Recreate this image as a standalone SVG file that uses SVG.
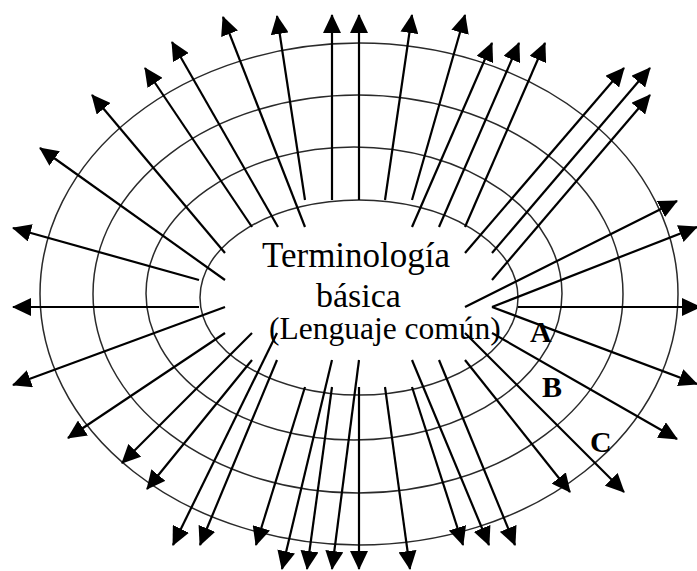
<svg xmlns="http://www.w3.org/2000/svg" width="697" height="571" viewBox="0 0 697 571">
<style>
.ring{fill:none;stroke:#2a2a2a;stroke-width:1.5}
.arr{stroke:#000;stroke-width:2.2;fill:none;marker-end:url(#ah)}
.t{font-family:"Liberation Serif","Times New Roman",serif;fill:#000}
.lb{font-family:"Liberation Serif","Times New Roman",serif;font-weight:bold;font-size:30px;fill:#000}
</style>
<defs>
<marker id="ah" markerWidth="19" markerHeight="18" refX="18" refY="9" orient="auto" markerUnits="userSpaceOnUse">
<path d="M0,0 L19,9 L0,18 z" fill="#000"/>
</marker>
</defs>
<rect width="697" height="571" fill="#fff"/>
<g id="rings">
<ellipse class="ring" cx="359" cy="294" rx="319" ry="251"/>
<ellipse class="ring" cx="358" cy="294" rx="265" ry="199"/>
<ellipse class="ring" cx="354" cy="293.5" rx="208" ry="146.5"/>
<ellipse class="ring" cx="359" cy="297.5" rx="159" ry="97.5"/>
</g>
<g id="connectors">
<line class="arr" x1="199" y1="280" x2="13" y2="228"/>
<line class="arr" x1="199" y1="307" x2="13" y2="307"/>
<line class="arr" x1="225" y1="280" x2="40" y2="148"/>
<line class="arr" x1="225" y1="253" x2="92" y2="95"/>
<line class="arr" x1="225" y1="307" x2="13" y2="385"/>
<line class="arr" x1="225" y1="333" x2="68" y2="438"/>
<line class="arr" x1="252" y1="227" x2="145" y2="68"/>
<line class="arr" x1="278" y1="227" x2="172" y2="42"/>
<line class="arr" x1="305" y1="227" x2="223" y2="17"/>
<line class="arr" x1="305" y1="200" x2="277" y2="16"/>
<line class="arr" x1="332" y1="200" x2="332" y2="15"/>
<line class="arr" x1="359" y1="200" x2="359" y2="15"/>
<line class="arr" x1="385" y1="200" x2="412" y2="15"/>
<line class="arr" x1="412" y1="200" x2="465" y2="15"/>
<line class="arr" x1="412" y1="227" x2="492" y2="43"/>
<line class="arr" x1="439" y1="227" x2="519" y2="43"/>
<line class="arr" x1="465" y1="227" x2="545" y2="43"/>
<line class="arr" x1="465" y1="253" x2="624" y2="68"/>
<line class="arr" x1="492" y1="253" x2="650" y2="68"/>
<line class="arr" x1="492" y1="280" x2="650" y2="95"/>
<line class="arr" x1="465" y1="307" x2="677" y2="201"/>
<line class="arr" x1="492" y1="307" x2="697" y2="227"/>
<line class="arr" x1="518" y1="307" x2="700" y2="307"/>
<line class="arr" x1="492" y1="307" x2="697" y2="384"/>
<line class="arr" x1="492" y1="333" x2="677" y2="439"/>
<line class="arr" x1="465" y1="333" x2="624" y2="492"/>
<line class="arr" x1="465" y1="360" x2="570" y2="492"/>
<line class="arr" x1="252" y1="333" x2="122" y2="463"/>
<line class="arr" x1="252" y1="360" x2="147" y2="489"/>
<line class="arr" x1="277" y1="333" x2="173" y2="545"/>
<line class="arr" x1="277" y1="360" x2="200" y2="545"/>
<line class="arr" x1="305" y1="387" x2="256" y2="545"/>
<line class="arr" x1="332" y1="360" x2="282" y2="569"/>
<line class="arr" x1="332" y1="387" x2="307" y2="569"/>
<line class="arr" x1="359" y1="360" x2="332" y2="569"/>
<line class="arr" x1="359" y1="387" x2="359" y2="569"/>
<line class="arr" x1="385" y1="387" x2="410" y2="569"/>
<line class="arr" x1="412" y1="387" x2="463" y2="545"/>
<line class="arr" x1="412" y1="360" x2="489" y2="545"/>
<line class="arr" x1="439" y1="360" x2="515" y2="545"/>
</g>
<g id="center">
<text class="t" x="262" y="267" font-size="35">Terminología</text>
<text class="t" x="316" y="307" font-size="34">básica</text>
<text class="t" x="269" y="339" font-size="31.5">(Lenguaje común)</text>
</g>
<g id="label-A"><text class="lb" x="530" y="342">A</text></g>
<g id="label-B"><text class="lb" x="542" y="397">B</text></g>
<g id="label-C"><text class="lb" x="590" y="452">C</text></g>
</svg>
